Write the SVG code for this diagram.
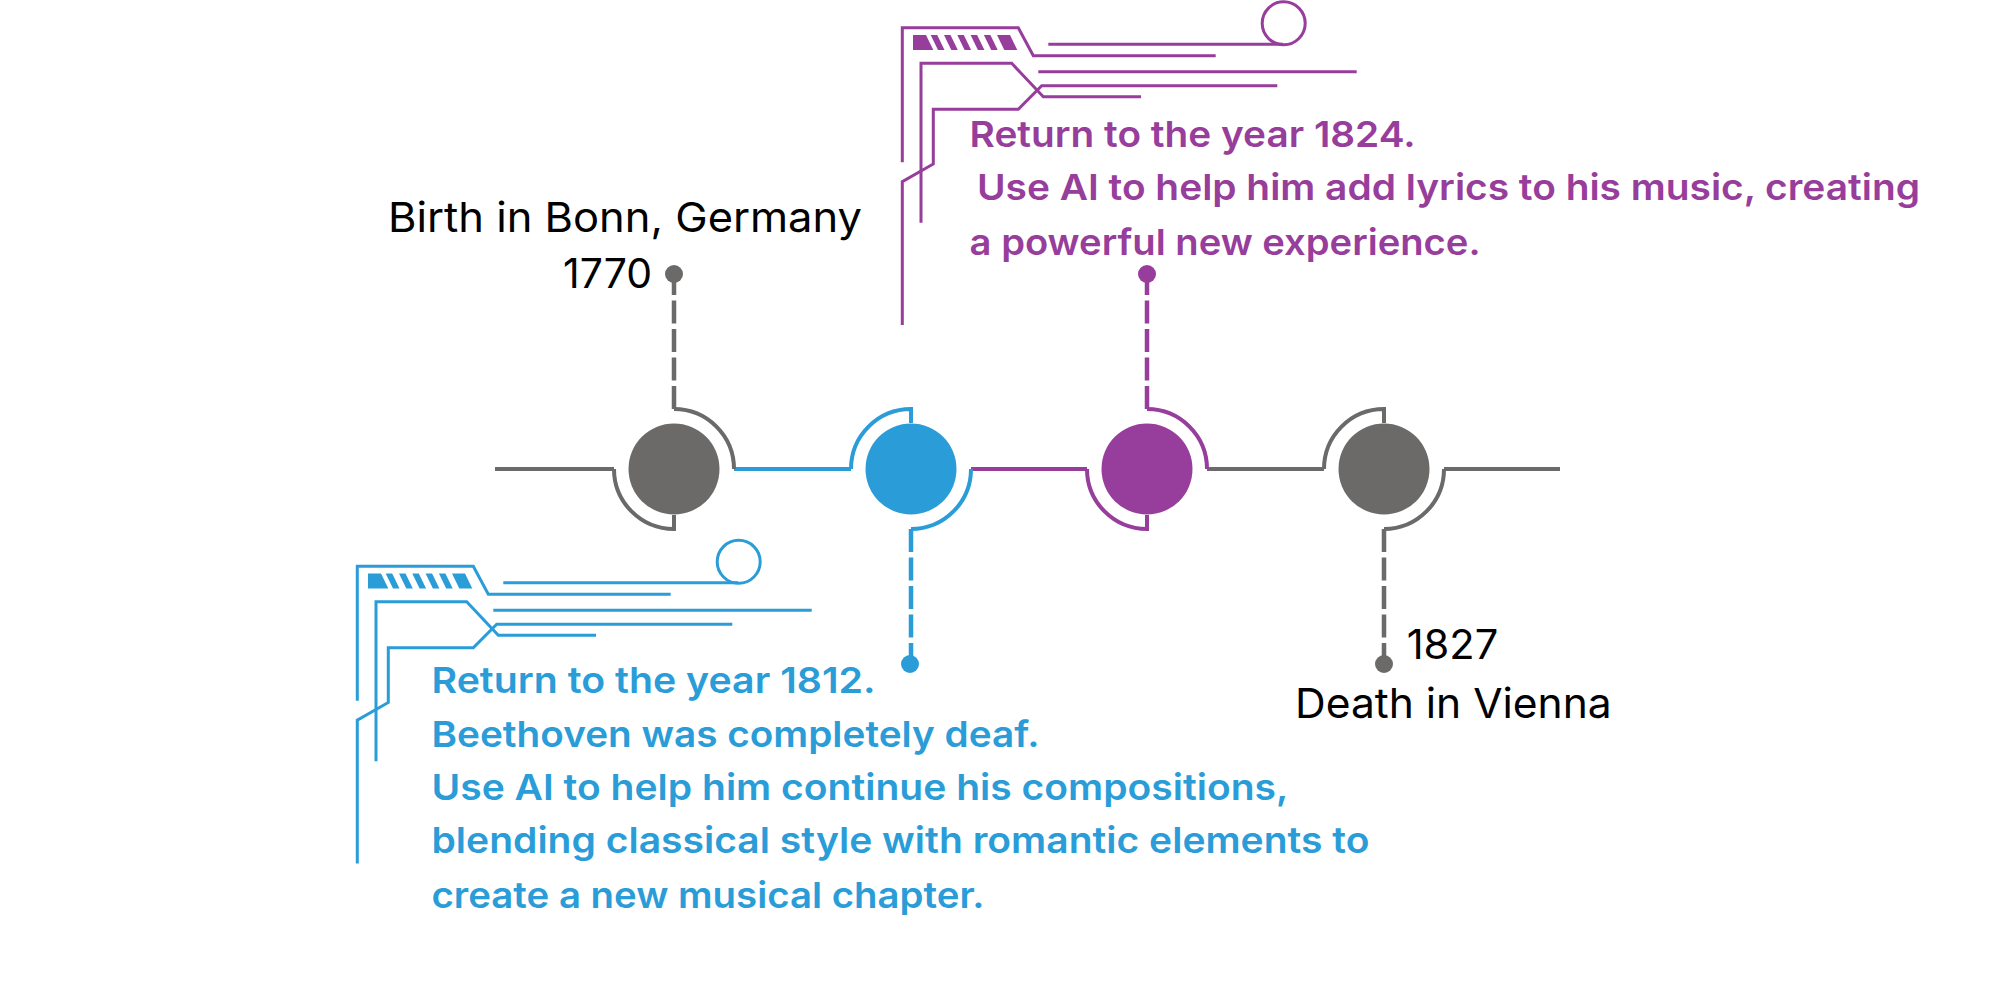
<svg xmlns="http://www.w3.org/2000/svg" xmlns:xlink="http://www.w3.org/1999/xlink" width="2000" height="1000" viewBox="0 0 2000 1000">
<style>
.g{stroke:#6b6a69}.b{stroke:#2a9dd8}.p{stroke:#973d9b}
.ln{fill:none;stroke-width:4}
.dash{fill:none;stroke-width:4.5;stroke-dasharray:23 5.5}
.reg{font-family:Inter,"Open Sans","Liberation Sans",sans-serif;font-size:41px;fill:#000}
.bold{font-family:Inter,"Open Sans","Liberation Sans",sans-serif;font-size:36px;font-weight:600}
.cl{fill:none;stroke:currentColor;stroke-width:3}
.cf{fill:currentColor;stroke:none}
</style>
<defs>
<g id="circuit">
<path class="cl" d="M902.3,162.3 V27.7 H1018.3 L1033.3,55.7 H1215.7"/>
<path class="cl" d="M921,222.7 V63.3 H1011.7 L1043.3,96.7 H1141"/>
<path class="cl" d="M902.3,325 V181.7 L933.3,164 V109.3 H1018.3 L1041.7,85.7 H1277.3"/>
<path class="cl" d="M1038.3,71.7 H1356.7"/>
<path class="cl" d="M1048.3,44.3 H1283"/>
<circle class="cl" cx="1283.7" cy="23.3" r="21.5"/>
<polygon class="cf" points="913,35 926,35 933.3,50 913,50"/>
<polygon class="cf" points="930.7,35 937.2,35 944.5,50 938,50"/>
<polygon class="cf" points="944,35 950.5,35 957.8,50 951.3,50"/>
<polygon class="cf" points="957.3,35 963.8,35 971.1,50 964.6,50"/>
<polygon class="cf" points="970.6,35 977.1,35 984.4,50 977.9,50"/>
<polygon class="cf" points="983.9,35 990.4,35 997.7,50 991.2,50"/>
<polygon class="cf" points="997,35 1010,35 1017.3,50 1004.3,50"/>
</g>
</defs>

<g id="decorations">
<use xlink:href="#circuit" href="#circuit" color="#973d9b"/>
<use xlink:href="#circuit" href="#circuit" color="#2a9dd8" transform="translate(-545,538.5)"/>
</g>

<g id="connectors">
<path class="ln g" d="M495,469 H614"/>
<path class="ln b" d="M734,469 H851"/>
<path class="ln p" d="M971,469 H1087"/>
<path class="ln g" d="M1207,469 H1324"/>
<path class="ln g" d="M1444,469 H1560"/>
<path class="dash g" d="M674,409 V274"/>
<path class="dash b" d="M911,529 V664"/>
<path class="dash p" d="M1147,409 V274"/>
<path class="dash g" d="M1384,529 V664"/>
</g>

<g id="node-1770">
<circle cx="674" cy="469" r="45.5" fill="#6b6a69"/>
<path class="ln g" d="M674,409 A60,60 0 0 1 734,469"/>
<path class="ln g" d="M614,469 A60,60 0 0 0 674,529 V515"/>
<circle cx="674" cy="274" r="9" fill="#6b6a69"/>
<text class="reg" x="388" y="232" textLength="474" lengthAdjust="spacingAndGlyphs">Birth in Bonn, Germany</text>
<text class="reg" x="563" y="288" textLength="89" lengthAdjust="spacingAndGlyphs">1770</text>
</g>

<g id="node-1812">
<circle cx="911" cy="469" r="45.5" fill="#2a9dd8"/>
<path class="ln b" d="M851,469 A60,60 0 0 1 911,409 V423"/>
<path class="ln b" d="M971,469 A60,60 0 0 1 911,529"/>
<circle cx="910" cy="664" r="9" fill="#2a9dd8"/>
<g class="bold" fill="#2a9dd8">
<text x="431.5" y="692.7" textLength="444" lengthAdjust="spacingAndGlyphs">Return to the year 1812.</text>
<text x="431.5" y="746.7" textLength="608" lengthAdjust="spacingAndGlyphs">Beethoven was completely deaf.</text>
<text x="431.5" y="800" textLength="857" lengthAdjust="spacingAndGlyphs">Use AI to help him continue his compositions,</text>
<text x="431.5" y="853.3" textLength="938" lengthAdjust="spacingAndGlyphs">blending classical style with romantic elements to</text>
<text x="431.5" y="908.3" textLength="553" lengthAdjust="spacingAndGlyphs">create a new musical chapter.</text>
</g>
</g>

<g id="node-1824">
<circle cx="1147" cy="469" r="45.5" fill="#973d9b"/>
<path class="ln p" d="M1147,409 A60,60 0 0 1 1207,469"/>
<path class="ln p" d="M1087,469 A60,60 0 0 0 1147,529 V515"/>
<circle cx="1147" cy="274" r="9" fill="#973d9b"/>
<g class="bold" fill="#973d9b">
<text x="969.6" y="146.7" textLength="446" lengthAdjust="spacingAndGlyphs">Return to the year 1824.</text>
<text x="977" y="200" textLength="943" lengthAdjust="spacingAndGlyphs">Use AI to help him add lyrics to his music, creating</text>
<text x="969.6" y="255" textLength="511" lengthAdjust="spacingAndGlyphs">a powerful new experience.</text>
</g>
</g>

<g id="node-1827">
<circle cx="1384" cy="469" r="45.5" fill="#6b6a69"/>
<path class="ln g" d="M1324,469 A60,60 0 0 1 1384,409 V423"/>
<path class="ln g" d="M1444,469 A60,60 0 0 1 1384,529"/>
<circle cx="1384" cy="664" r="9" fill="#6b6a69"/>
<text class="reg" x="1406.7" y="659.3" textLength="91.6" lengthAdjust="spacingAndGlyphs">1827</text>
<text class="reg" x="1295" y="718.3" textLength="316.7" lengthAdjust="spacingAndGlyphs">Death in Vienna</text>
</g>
</svg>
